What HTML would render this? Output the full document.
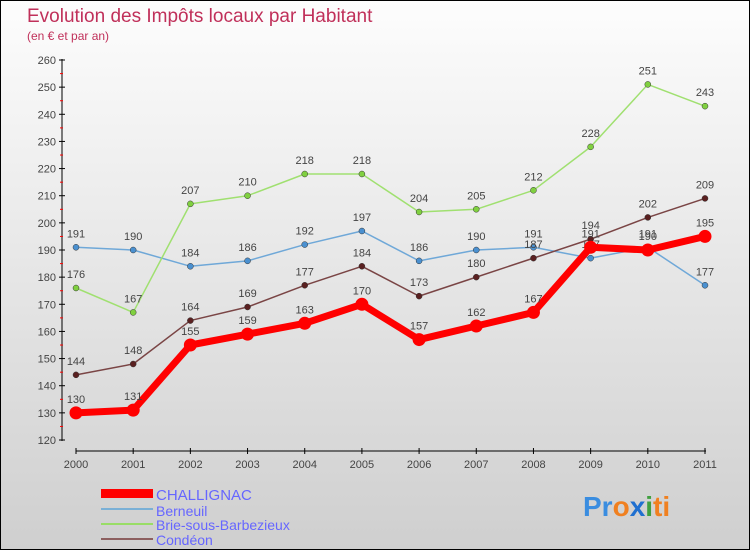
<!DOCTYPE html>
<html><head><meta charset="utf-8"><style>
body{margin:0}
#c{width:748px;height:548px;border:1px solid #000;background:linear-gradient(#fdfdfd,#cfcfcf);position:relative;font-family:"Liberation Sans",sans-serif}
</style></head><body>
<div id="c">
<svg width="748" height="548">
<text x="26" y="21" font-size="19" fill="#c0305a">Evolution des Impôts locaux par Habitant</text>
<text x="26" y="39" font-size="12" fill="#c0305a">(en € et par an)</text>
<g id="axes"></g><g id="series"></g>
<g>
<rect x="100" y="488" width="52" height="9" fill="#f00"/>
<text x="155" y="499" font-size="15" fill="#66f">CHALLIGNAC</text>
<line x1="100" y1="508" x2="152" y2="508" stroke="#7ab0d6" stroke-width="2"/>
<text x="155" y="515" font-size="14" fill="#66f">Berneuil</text>
<line x1="100" y1="523" x2="152" y2="523" stroke="#99dd66" stroke-width="2"/>
<text x="155" y="529" font-size="14" fill="#66f">Brie-sous-Barbezieux</text>
<line x1="100" y1="538" x2="152" y2="538" stroke="#8c5f5f" stroke-width="2"/>
<text x="155" y="544" font-size="14" fill="#66f">Condéon</text>
</g>
<text x="582" y="515" font-size="28" font-weight="bold"><tspan fill="#3a8de0">Pr</tspan><tspan fill="#f08020">o</tspan><tspan fill="#2070d0">x</tspan><tspan fill="#40a040">i</tspan><tspan fill="#f08020">ti</tspan></text>
</svg></div>
<script>
const years=[2000,2001,2002,2003,2004,2005,2006,2007,2008,2009,2010,2011];
const yTicks=[120,130,140,150,160,170,180,190,200,210,220,230,240,250,260];
const challignac=[130,131,155,159,163,170,157,162,167,191,190,195];
const berneuil=[191,190,184,186,192,197,186,190,191,187,191,177];
const brie=[176,167,207,210,218,218,204,205,212,228,251,243];
const condeon=[144,148,164,169,177,184,173,180,187,194,202,209];
const NS="http://www.w3.org/2000/svg";
const X=i=>75+i*(704-75)/(years.length-1);
const Y=v=>439-(v-120)*(380/140);
function mk(t,a,p){const e=document.createElementNS(NS,t);for(const k in a)e.setAttribute(k,a[k]);p.appendChild(e);return e;}
const ax=document.getElementById('axes');
mk('line',{x1:61,y1:58,x2:61,y2:440,stroke:'#000'},ax);
yTicks.forEach(v=>{const y=Y(v);
 mk('line',{x1:58,y1:y,x2:64,y2:y,stroke:'#000'},ax);
 mk('line',{x1:59,y1:y+13.6,x2:62,y2:y+13.6,stroke:v>120?'#f00':'none'},ax);
 const t=mk('text',{x:55,y:y+4,'font-size':11,fill:'#444','text-anchor':'end'},ax);
 
 
 t.textContent=v;});
mk('line',{x1:75,y1:450,x2:705,y2:450,stroke:'#000'},ax);
years.forEach((yr,i)=>{const x=X(i);
 mk('line',{x1:x,y1:447,x2:x,y2:453,stroke:'#000'},ax);
 const t=mk('text',{x:x,y:467,'font-size':11,fill:'#444','text-anchor':'middle'},ax);
 
 
 t.textContent=yr;});
const sg=document.getElementById('series');
function draw(d,col,w,r,dot,name){
 const g=mk('g',{},sg);
 
 
 mk('polyline',{points:d.map((v,i)=>X(i)+','+Y(v)).join(' '),fill:'none',stroke:col,'stroke-width':w,'stroke-linejoin':'round'},g);
 d.forEach((v,i)=>{const c=mk('circle',{cx:X(i),cy:Y(v),r:r,fill:dot,stroke:r<5?'#333':'none','stroke-width':0.5},g);
  
  
  const t=mk('text',{x:X(i),y:Y(v)-10,'font-size':11,fill:'#444','text-anchor':'middle'},g);
  t.textContent=v;});
}
draw(berneuil,'#6fa8d8',1.5,3,'#4a90d0','series-berneuil');
draw(brie,'#a0e070',1.5,3,'#80d040','series-brie');
draw(condeon,'#7a4545',1.5,3,'#5a2020','series-condeon');
draw(challignac,'#f00',7,6.5,'#f00','series-challignac');
</script>
</body></html>
